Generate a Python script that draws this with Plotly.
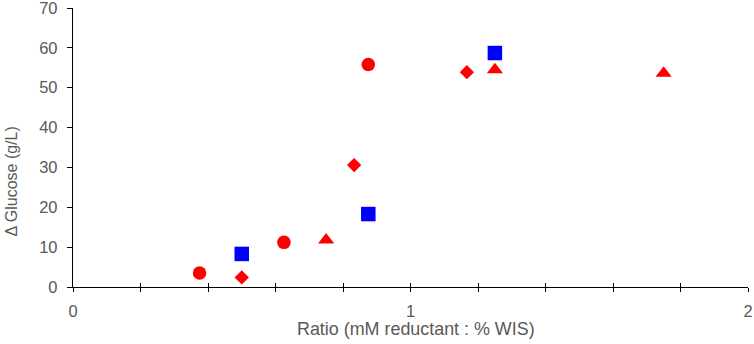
import plotly.graph_objects as go

circle_x = [0.375, 0.625, 0.875]
circle_y = [3.5, 11.2, 55.8]
diamond_x = [0.5, 0.833, 1.167]
diamond_y = [2.4, 30.6, 53.9]
triangle_x = [0.75, 1.25, 1.75]
triangle_y = [11.8, 54.5, 53.6]
square_x = [0.5, 0.875, 1.25]
square_y = [8.3, 18.3, 58.7]

x_tickvals = [0, 0.2, 0.4, 0.6, 0.8, 1.0, 1.2, 1.4, 1.6, 1.8, 2.0]
x_ticktext = ["0", "", "", "", "", "1", "", "", "", "", "2"]
x_title = "Ratio (mM reductant : % WIS)"
y_title = "Δ Glucose (g/L)"

RED = "#ff0000"
BLUE = "#0000ff"
FAM = "Liberation Sans, Arial, sans-serif"
GREY = "#595959"

fig = go.Figure()
fig.add_trace(go.Scatter(x=circle_x, y=circle_y, mode="markers",
                         marker=dict(symbol="circle", size=13.5, color=RED)))
fig.add_trace(go.Scatter(x=diamond_x, y=diamond_y, mode="markers",
                         marker=dict(symbol="diamond", size=11, color=RED)))
fig.add_trace(go.Scatter(x=triangle_x, y=triangle_y, mode="markers",
                         marker=dict(symbol="triangle-up", size=14, color=RED)))
fig.add_trace(go.Scatter(x=square_x, y=square_y, mode="markers",
                         marker=dict(symbol="square", size=14.5, color=BLUE)))
# overlay axis for the inside half of the crossing ticks
fig.add_trace(go.Scatter(x=[None], y=[None], xaxis="x2", showlegend=False))

fig.update_layout(
    width=754, height=344,
    margin=dict(l=73, r=6, t=8, b=57),
    paper_bgcolor="white", plot_bgcolor="white",
    showlegend=False,
    font=dict(family=FAM, size=16, color=GREY),
    xaxis=dict(range=[0, 2], tickvals=x_tickvals, ticktext=x_ticktext,
               ticks="outside", ticklen=4, tickwidth=1.3, tickcolor="black",
               showline=True, linecolor="black", linewidth=1.3,
               showgrid=False, zeroline=False, automargin=False,
               ticklabeloverflow="allow", ticklabelstandoff=5,
               tickfont=dict(family=FAM, size=16.5, color=GREY)),
    xaxis2=dict(range=[0, 2], overlaying="x", anchor="y", side="bottom",
                tickvals=x_tickvals, ticks="inside", ticklen=4, tickwidth=1.3,
                tickcolor="black", showticklabels=False, showline=False,
                showgrid=False, zeroline=False),
    yaxis=dict(range=[0, 70], dtick=10, ticks="outside", ticklen=5,
               tickwidth=1.3, tickcolor="black",
               showline=True, linecolor="black", linewidth=1.3,
               showgrid=False, zeroline=False, automargin=False,
               ticklabeloverflow="allow", ticklabelstandoff=6,
               tickfont=dict(family=FAM, size=16.5, color=GREY)),
    annotations=[
        dict(text=x_title, xref="paper", yref="paper",
             x=(416 - 73) / 675, y=(287 - 329) / 279,
             xanchor="center", yanchor="middle", showarrow=False,
             font=dict(family=FAM, size=17.9, color=GREY)),
        dict(text=y_title, xref="paper", yref="paper", textangle=-90,
             x=(10.5 - 73) / 675, y=(287 - 182) / 279,
             xanchor="center", yanchor="middle", showarrow=False,
             font=dict(family=FAM, size=16, color=GREY)),
    ],
)

fig.write_html("out.html", post_script="document.body.style.margin='0';",
               config={"displayModeBar": False})
